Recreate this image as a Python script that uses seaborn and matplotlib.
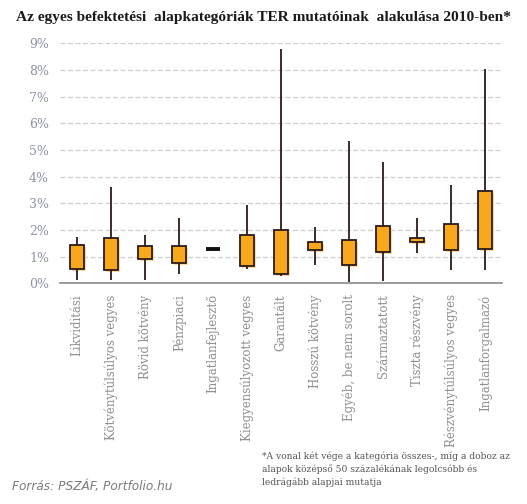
import pandas as pd
import numpy as np
import seaborn as sns
import matplotlib.pyplot as plt
import matplotlib.patheffects as pe

# TER values in %
categories = ['Likviditási', 'Kötvénytúlsúlyos vegyes', 'Rövid kötvény', 'Pénzpiaci',
              'Ingatlanfejlesztő', 'Kiegyensúlyozott vegyes', 'Garantált', 'Hosszú kötvény',
              'Egyéb, be nem sorolt', 'Származtatott', 'Tiszta részvény',
              'Részvénytúlsúlyos vegyes', 'Ingatlanforgalmazó']
low = [0.14, 0.14, 0.14, 0.33, 1.29, 0.52, 0.29, 0.70, 0.06, 0.10, 1.15, 0.51, 0.51]
q1 = [0.52, 0.50, 0.90, 0.75, 1.29, 0.64, 0.34, 1.24, 0.68, 1.16, 1.54, 1.24, 1.30]
q3 = [1.42, 1.69, 1.39, 1.39, 1.29, 1.80, 1.99, 1.54, 1.61, 2.14, 1.69, 2.21, 3.45]
high = [1.72, 3.60, 1.80, 2.44, 1.29, 2.94, 8.78, 2.10, 5.34, 4.54, 2.44, 3.68, 8.03]

# five points per category -> quartiles of the boxplot land exactly on q1/q3
rows = []
for c, a, b, d, e in zip(categories, low, q1, q3, high):
    for v in [a, b, (b + d) / 2, d, e]:
        rows.append({'kat': c, 'ter': v})
df = pd.DataFrame(rows)

sns.set_style('white')
plt.rcParams['font.family'] = ['DejaVu Serif', 'DejaVu Sans']

fig = plt.figure(figsize=(5.27, 5.04), dpi=100)
ax = fig.add_axes([0.114, 0.438, 0.839, 0.476])

edge = '#2b1b1e'
sns.boxplot(data=df, x='kat', y='ter', order=categories, whis=(0, 100), width=0.41,
            color='#f7a81b', saturation=1, showcaps=False, linecolor=edge, linewidth=1.3,
            medianprops={'linewidth': 0, 'alpha': 0}, ax=ax)
for i, p in enumerate(ax.patches):
    p.set_facecolor('#f7a81b')
    p.set_path_effects([pe.SimplePatchShadow(offset=(1.5, -1.5), shadow_rgbFace='#fdd99a', alpha=1),
                        pe.Normal()])
    if low[i] == high[i]:
        # flat category: drawn as a thick dark dash
        p.set_linewidth(2.8)
        p.set_edgecolor('#111111')

ax.set_ylim(0, 9)
ax.set_xlim(-0.5, len(categories) - 0.5)
ax.set_yticks(range(10))
ax.set_yticklabels([f'{i}%' for i in range(10)], color='#8d93a3', fontsize=9)
ax.set_xticks(range(len(categories)))
ax.set_xticklabels(categories, rotation=90, color='#8f8f8f', fontsize=8.5, va='top', ha='center')
ax.tick_params(length=0, pad=8)
ax.set_xlabel('')
ax.set_ylabel('')
ax.yaxis.grid(True, linestyle=(0, (4, 2)), color='#cfcfcf', linewidth=0.9)
ax.set_axisbelow(True)
for s in ['top', 'right', 'left']:
    ax.spines[s].set_visible(False)
ax.spines['bottom'].set_color('#8a8a8a')
ax.spines['bottom'].set_linewidth(1.2)

fig.text(0.5, 0.966, 'Az egyes befektetési  alapkategóriák TER mutatóinak  alakulása 2010-ben*',
         ha='center', va='center', fontsize=11.1, fontweight='bold', color='#1a1a1a',
         family='Liberation Serif')
fig.text(0.497, 0.069, '*A vonal két vége a kategória összes-, míg a doboz az\n'
         'alapok középső 50 százalékának legolcsóbb és\nledrágább alapjai mutatja',
         ha='left', va='center', fontsize=6.6, color='#555555', linespacing=1.5)
fig.text(0.023, 0.034, 'Forrás: PSZÁF, Portfolio.hu', ha='left', va='center', fontsize=8.7,
         style='italic', color='#7a7a7a', family='DejaVu Sans')

fig.savefig('out.png', dpi=100)
